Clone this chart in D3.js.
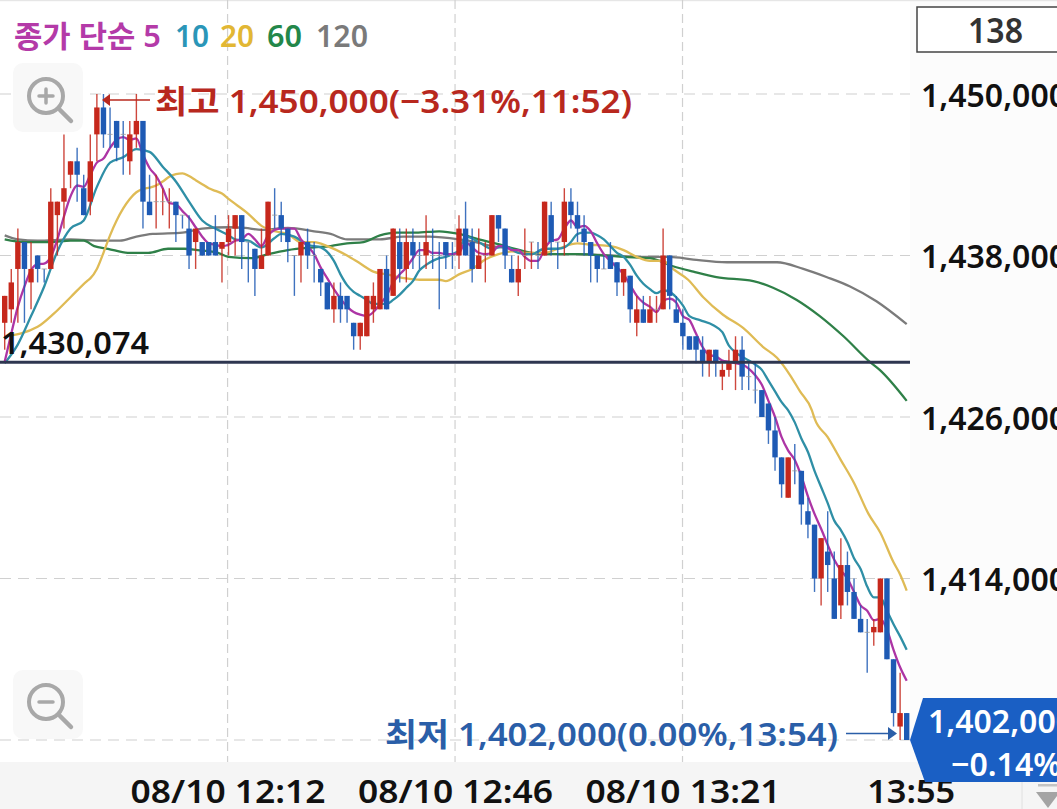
<!DOCTYPE html>
<html><head><meta charset="utf-8">
<script src="https://cdn.jsdelivr.net/npm/d3@7/dist/d3.min.js"></script>
<style>html,body{margin:0;padding:0;background:#fff;overflow:hidden}svg{display:block}
text{font-family:"Noto Sans","Noto Sans CJK KR",sans-serif;font-weight:600}</style>
</head><body><svg id="c" width="1057" height="809"></svg>
<script>
// candles, in thousands of won: body top, body bottom, wick high, wick low, direction (1 up / red, 0 down / blue)
const bodyTop=[1435,1436,1439,1439,1437,1438,1437,1442,1442,1443,1445,1445,1443,1445,1449,1449,1447,1448,1447,1447,1448,1448,1442,1442,1442,1442,1442,1441,1440,1440,1439,1439,1439,1439,1440,
1441,1441,1439,1438.5,1438,1442,1441,1441,1440,1438,1439,1439,1438,1437,1436,1435,1435,1435,1433,1433,1435,1435,1437,1437,1440,1439,1439,1439,1438,1439,1438,1438,1439,1438,1440,
1440,1439,1438,1438,1441,1441,1440,1437,1437,1438,1439,1438,1442,1441,1439,1442,1442,1441,1440,1439,1438,1437,1438,1437.5,1437,1436.5,1434,1434,1434,1434,1438,1438,1434,1433,1432,
1432,1431,1431,1431,1429.5,1430,1431,1431,1429,1428,1428,1427,1425,1423,1423,1422,1422,1419,
1418,1417,1416,1414,1415,1415,1413,1411,1410,1410.4,1414,1414,1408,1404,1404];
const bodyBottom=[1433,1434,1437,1437,1436,1437,1437,1437,1441,1442,1444,1444,1441,1442,1447,1447,1447,1446,1447,1445,1447,1442,1441,1442,1442,1442,1441,1441,1438,1439,1438,1438,1438,1438.5,1439,
1440,1439,1439,1437,1437,1438,1441,1440,1439,1438,1438,1438,1438,1436,1434,1434,1434,1434,1432,1432,1432,1434,1434,1434,1435,1437,1437,1438,1438,1438,1438,1438,1438,1438,1438,
1438,1437,1437,1438,1438,1440,1438,1436,1436,1438,1439,1438,1438,1439,1439,1439,1441,1440,1439,1438,1437,1437,1437,1436,1436,1434,1433,1433,1433,1434,1434,1435,1433,1432,1431,
1431,1430,1430,1430,1429,1429.5,1430,1429,1429,1428,1426,1425,1423,1421,1420,1422,1419.5,1418,
1414,1414,1415,1411,1412,1413,1411,1410,1410,1410,1410,1408,1404,1403,1402];
const wickHigh=[1435,1437,1440,1439,1439,1438,1437,1443,1442,1447,1445,1446,1444,1447,1450,1450,1449,1448,1448,1448,1450,1448,1444,1444,1443,1443,1442,1441,1441,1440,1439,1439,1441,1439,1441,
1441,1441,1439,1438.5,1440,1442,1443,1442,1440,1438,1439,1440,1439,1437,1436,1436,1436,1435,1433,1433,1435,1436,1437,1438,1440,1440,1440,1440,1439,1441,1440,1439,1439,1439,1441,
1442,1440,1440,1439,1441,1441,1440,1438,1438,1440,1439,1439,1442,1442,1439,1443,1443,1442,1441,1439,1438,1438,1439,1437.5,1437,1436.5,1435,1435,1435,1435,1440,1438,1435,1434,1432,
1432,1432,1431,1431,1430,1431,1432,1432,1430,1430,1428,1427,1426,1423,1423,1424,1422,1420,
1418,1417,1419,1416,1417,1416,1414,1412,1411,1411,1414,1414,1408,1407,1404];
const wickLow=[1431,1433,1433,1433,1434,1436,1436,1437,1438,1440,1443,1442,1441,1441,1445,1446,1446,1445,1444,1444,1446,1440,1441,1440,1441,1440,1439,1440,1437,1437,1438,1438,1438,1436,1438,
1438,1437,1436,1435,1437,1438,1440,1439,1437.5,1435,1436,1437,1436,1435,1434,1433,1433,1433,1431,1431,1432,1433,1434,1434,1435,1436,1436,1437,1437,1437,1437,1434,1437,1437,1437,
1438,1436,1437,1436,1438,1439,1437,1436,1435,1437,1437,1437,1438,1438,1437,1438,1440,1439,1438,1436,1436,1437,1437,1435,1435,1433,1432,1433,1433,1433,1434,1434,1433,1431,1431,
1430,1429,1429,1429,1428,1429,1428,1428,1428,1427,1426,1424,1422,1420,1420,1421,1418,1417,
1413,1412,1413,1411,1411,1412,1411,1410,1407,1409,1410,1408,1403,1402,1402];
const isUp=[1,1,1,0,1,0,0,1,1,1,1,0,0,1,1,0,0,0,0,1,1,0,0,1,1,1,0,0,0,1,0,0,0,1,1,
1,0,0,0,1,1,0,0,0,0,1,0,0,0,0,1,0,0,0,1,1,1,1,0,1,0,1,0,0,1,0,0,0,0,1,
0,0,1,1,1,0,0,0,1,1,1,0,1,0,0,1,0,0,0,0,0,0,0,0,1,0,1,0,1,1,1,0,0,0,0,
0,0,1,0,1,1,1,0,0,0,0,0,0,0,1,0,0,0,
0,1,0,0,1,0,0,0,0,1,1,0,0,1,0];

// moving averages: candle position and level
const ma5Pos=d3.range(0,138);
const ma5=[1430.1,1432.2,1434.2,1435.7,1436.9,1437.35,1437.4,1437.9,1439.2,1440.9,1442.4,1443.2,1443.1,1444,1444.9,1445.2,1446,1446.6,1446.8,1446.6,1446.7,1445.5,1444.5,1443.9,1443,1441.9,1441.8,1441.3,1440.8,1440.1,1439.4,1438.9,1438.8,1438.7,1438.8,
1439.1,1439.2,1439.6,1439.2,1438.7,1439.5,1439.9,1440,1440,1440,1439.2,1438.7,1438.1,1437.1,1436.3,1435.5,1434.8,1434.2,1433.8,1433.6,1433.5,1433.8,1434.4,1435,1436,1436.6,1437.1,1437.8,1438.4,1438.4,1438.2,1438.2,1438.1,1438.1,1438.2,
1439,1438.6,1438.2,1438.1,1438.2,1438.7,1438.7,1438.4,1438.4,1437.9,1437.6,1437.6,1438.5,1439.1,1439.2,1440,1440.6,1440.1,1440.2,1439.8,1438.9,1438.1,1437.6,1437.1,1436.6,1435.8,1435,1434.5,1434.2,1433.8,1434.6,1434.8,1434.5,1433.5,
1433.2,1432.2,1431.2,1430.6,1430.5,1430.2,1430.1,1430,1429.9,1429.6,1429.1,1428.4,1427.2,1426,1424.5,1423.5,1422.8,1421.6,1420.1,1418.8,
1417.7,1416.5,1415.4,1414.6,1414,1413,1412,1411.6,1410.9,1411,1410.2,1408.7,1407.4,1406.4];
const ma10Pos=[0,2,4,6,8,10,12,14,16,18,20,22,24,26,28,30,32,34,35,37,39,41,42,44,46,48,50,51,52,53,54,55,56,57,58,59,60,61,62,63,64,65,66,67,68,69,70,72,74,76,78,80,82,84,85,86,87,88,89,90,91,92,93,94,95,96,97,98,99,100,101,102,103,104,105.6,107.7,109,110,111,113,114,115,116,117,118,119,120,121,122,123,124,125,126,127,128,129,130,131,132,133,134,135,136,137];
const ma10=[1430,1431.4,1433.5,1435.7,1438.3,1440,1440.6,1443.1,1444.9,1445.3,1445.9,1445.7,1444.6,1443.5,1442,1440.6,1440,1439.5,1439.2,1439.1,1438.6,1439.3,1439.6,1439.4,1438.8,1438.6,1437.6,1436.6,1435.8,1435.3,1435,1434.7,1434.4,1434.4,1434.4,1434.7,1435.1,1435.6,1436.1,1436.9,1437.3,1437.6,1437.8,1437.9,1438.1,1438.4,1439.4,1439,1438.5,1438.7,1438.2,1438.1,1438.5,1438.5,1438.6,1439,1439.6,1439.7,1439.7,1439.5,1439.2,1438.7,1438.2,1437.9,1437.3,1436.5,1435.9,1435.5,1435.2,1435.4,1435.3,1434.9,1434.3,1433.5,1433.2,1432.8,1432.3,1431.3,1430.8,1430.2,1429.9,1429.5,1428.7,1427.9,1427.1,1426.5,1425.6,1424.4,1423.4,1422,1420.8,1419.6,1418.3,1417.6,1416.7,1415.5,1414.7,1413.4,1412.6,1412.6,1411.6,1410.6,1409.7,1408.7];
const ma20Pos=[0,5,7.5,10,12.5,13,14,15,16,17,18,19,20,21,22,23,24,25,26,27,28,29,30,31,32,33,34,37,39,41,43,45,47,49,52,54,56,58,61,63,66,67,69,71,73,75,77,79,82,84,87,89,92,94,96,98,100,101.5,103.8,106.1,109.1,112.2,115.2,117.3,119.3,120.8,122.6,123,125,127,129,131.2,133,135,136,137];
const ma20=[1432,1432.7,1433.7,1434.9,1436.1,1436.3,1437,1438.2,1439.5,1440.6,1441.5,1442.2,1442.7,1442.95,1443.05,1443.2,1443.5,1443.85,1444.05,1444.1,1443.9,1443.6,1443.3,1443,1442.8,1442.6,1442.2,1441.1,1440.2,1439.8,1439.6,1439,1439,1438.7,1438,1437.4,1436.8,1436.6,1436.3,1436.2,1436.2,1436.1,1436.6,1437,1437.7,1438.1,1438.3,1438.2,1438.2,1438.5,1438.9,1438.8,1438.7,1438.4,1437.9,1437.6,1437.6,1437,1436.2,1434.9,1433.6,1432.6,1431.2,1430.4,1429.1,1427.9,1426.5,1425.9,1424.5,1422.8,1421.1,1418.8,1417.4,1415.2,1414.3,1413.1];
const ma60Pos=[0,3,7,10,12,13.6,15.7,18.7,21.8,24.8,27.3,29.3,32.4,34,37.5,40,43,47,49.5,52,54.5,57,59.5,62.5,66,69,72,74.5,77.5,80,84,87,91,94,98,101.5,104.6,108.1,113.7,116.7,120.3,123.8,127.4,131.4,132.9,137];
const ma60=[1439.2,1439,1439,1439.1,1439.1,1438.7,1438.5,1438.2,1438.2,1438.5,1438.5,1438.4,1438.2,1437.9,1437.8,1438.1,1438.4,1438.6,1438.7,1438.9,1439,1439.5,1439.7,1439.7,1439.8,1439.6,1439.2,1438.9,1438.5,1438.2,1438.1,1438.1,1438,1437.9,1437.8,1437.2,1436.8,1436.4,1436.1,1435.6,1434.7,1433.5,1432,1430.1,1429.5,1427.2];
const ma120Pos=[0,2,5,10,15,17.5,20,22.5,27,30,34,36.5,39,43,47,49.5,52,54.5,57,60.5,64.5,69,71.5,74,77,79.5,83,87,92,97,101,104.6,109.7,117.3,121.3,124.8,128.4,132.4,137];
const ma120=[1439.5,1439.2,1439.1,1439.2,1439.1,1439.1,1439.4,1439.6,1439.7,1440,1440.1,1440.05,1439.9,1440.05,1439.8,1439.6,1439.2,1439.2,1439.2,1439.4,1439.4,1439.2,1439,1438.7,1438.5,1438.2,1438.1,1438.1,1438,1437.9,1437.9,1437.7,1437.5,1437.5,1437,1436.4,1435.7,1434.6,1432.9];

const yTicks=[1402,1414,1426,1438,1450];
const xTickPos=[33.85,68.4,102.95];
const xTickLabels=["08/10 12:12","08/10 12:46","08/10 13:21"];
const lastTickPos=137.6, lastTickLabel="13:55";
const baseLevel=1430.074, lastLevel=1402;
const legend=[["종가 단순 5","#b43aa8",14,147],["10","#2a96b8",175,34],["20","#e2b734",220,34],["60","#23874a",267,35],["120","#7a7a7a",316,52]];

const svg=d3.select("#c");
const plotW=910, bottomY=762;
const x=d3.scaleLinear().domain([0,137]).range([4.7,906.7]);
const y=d3.scaleLinear().domain([1402,1450]).range([740,94]);
const RED="#c6281c",BLUE="#1e5ab4";

// panels
svg.append("rect").attr("width",1057).attr("height",809).attr("fill","#fff");
svg.append("rect").attr("x",plotW).attr("y",0).attr("width",147).attr("height",bottomY).attr("fill","#fcfcfc");
svg.append("rect").attr("x",0).attr("y",bottomY).attr("width",1057).attr("height",47).attr("fill","#f5f5f5");
svg.append("rect").attr("width",1057).attr("height",1.2).attr("fill","#e6e6e6");
svg.append("line").attr("x1",1022).attr("x2",1022).attr("y1",bottomY).attr("y2",809).attr("stroke","#e0e0e0");
svg.append("rect").attr("x",1038).attr("y",784).attr("width",19).attr("height",2.5).attr("fill","#c4c4c4");
svg.append("path").attr("d","M1036,792H1060L1048,808Z").attr("fill","#a4a4a4");

// grid
const grid=svg.append("g").attr("fill","none").attr("stroke","#d0d0d0").attr("stroke-width",1.2);
yTicks.forEach(t=>grid.append("line").attr("x1",0).attr("x2",plotW).attr("y1",y(t)).attr("y2",y(t)).attr("stroke-dasharray","11,7"));
xTickPos.forEach(t=>grid.append("line").attr("x1",x(t)).attr("x2",x(t)).attr("y1",0).attr("y2",bottomY).attr("stroke-dasharray","9,5"));

// moving average lines
const lineOf=(pos,val,col)=>{
  const l=d3.line().x(d=>x(d[0])).y(d=>y(d[1])).curve(d3.curveMonotoneX);
  svg.append("path").attr("d",l(pos.map((p,i)=>[p,val[i]]))).attr("fill","none").attr("stroke",col).attr("stroke-width",2.3).attr("stroke-linejoin","round");
};
lineOf(ma120Pos,ma120,"#7b7b7b");
lineOf(ma60Pos,ma60,"#2f8048");
lineOf(ma20Pos,ma20,"#dfbb55");
lineOf(ma10Pos,ma10,"#2f8fa6");
lineOf(ma5Pos,ma5,"#ad35a5");

// candles
const cg=svg.append("g");
bodyTop.forEach((t,i)=>{
  const col=isUp[i]?RED:BLUE, cx=x(i);
  cg.append("line").attr("x1",cx).attr("x2",cx).attr("y1",y(wickHigh[i])).attr("y2",y(wickLow[i])).attr("stroke",col).attr("stroke-width",1.4).attr("opacity",.85);
  if(t===bodyBottom[i]){
    cg.append("line").attr("x1",cx-2.6).attr("x2",cx+2.6).attr("y1",y(t)).attr("y2",y(t)).attr("stroke","#999").attr("stroke-width",.8);
  }else{
    cg.append("rect").attr("x",cx-2.7).attr("width",5.4).attr("y",y(t)).attr("height",y(bodyBottom[i])-y(t)).attr("fill",col);
  }
});

// baseline
svg.append("line").attr("x1",0).attr("x2",plotW).attr("y1",y(baseLevel)).attr("y2",y(baseLevel)).attr("stroke","#2e3650").attr("stroke-width",3);

const fmt=d3.format(",");
const T=(s,px,py,size,col,len,anchor)=>{
  const e=svg.append("text").attr("x",px).attr("y",py).attr("font-size",size).attr("fill",col).text(s);
  if(anchor)e.attr("text-anchor",anchor);
  if(len)e.attr("textLength",len).attr("lengthAdjust","spacingAndGlyphs");
  return e;
};
legend.forEach(d=>T(d[0],d[2],47,30,d[1],d[3]));

// annotations
T("1,430,074",1,354,31,"#111",148);
T("최고 1,450,000(−3.31%,11:52)",155,113,32,"#b8281e",477);
T("최저 1,402,000(0.00%,13:54)",385,746,32,"#2a5ea8",453);
svg.append("line").attr("x1",110).attr("x2",150).attr("y1",100).attr("y2",100).attr("stroke","#b8281e").attr("stroke-width",1.4);
svg.append("path").attr("d","M102,100L110,94V106Z").attr("fill","#b8281e");
svg.append("line").attr("x1",846).attr("x2",890).attr("y1",733.5).attr("y2",733.5).attr("stroke","#2a5ea8").attr("stroke-width",1.4);
svg.append("path").attr("d","M897,733.5L888,727V740Z").attr("fill","#2a5ea8");

// y axis
const ya=svg.append("g").attr("transform","translate(921,0)").call(d3.axisRight(y).tickValues(yTicks.slice(1)).tickFormat(d=>fmt(d*1000)).tickSize(0).tickPadding(0));
ya.select(".domain").remove();
ya.selectAll("text").attr("font-size",32).attr("fill","#111").attr("dy",null).attr("y",12).attr("x",0);

// x axis
const xa=svg.append("g").attr("transform",`translate(0,${bottomY})`).call(d3.axisBottom(x).tickValues(xTickPos.concat([lastTickPos])).tickFormat((d,i)=>i<3?xTickLabels[i]:lastTickLabel).tickSize(0).tickPadding(0));
xa.select(".domain").remove();
xa.selectAll("text").attr("font-size",33).attr("fill","#111").attr("dy",null).attr("y",41).attr("text-anchor","middle").attr("textLength",(d,i)=>i<3?195:88).attr("lengthAdjust","spacingAndGlyphs");

// last price tag
svg.append("path").attr("d","M923,698H1057V782H925L910,740Z").attr("fill","#1a5fc4");
T(fmt(lastLevel*1000),928,733,32,"#fff");
T("−0.14%",951,776,32,"#fff");

// count box
svg.append("rect").attr("x",917).attr("y",7).attr("width",160).attr("height",45).attr("fill","#fff").attr("stroke","#444").attr("stroke-width",1.5);
T("138",995.5,43,34,"#333",55,"middle");

// zoom buttons
const btn=(by,cy,r,plus)=>{
  const g=svg.append("g");
  g.append("rect").attr("x",13).attr("y",by).attr("width",70).attr("height",69).attr("rx",10).attr("fill","#f8f8f8");
  g.append("circle").attr("cx",46).attr("cy",cy).attr("r",r).attr("fill","none").attr("stroke","#a8a8a8").attr("stroke-width",4);
  g.append("line").attr("x1",60).attr("y1",cy+14).attr("x2",71).attr("y2",cy+25).attr("stroke","#a8a8a8").attr("stroke-width",4.5).attr("stroke-linecap","round");
  g.append("line").attr("x1",39).attr("x2",53).attr("y1",cy).attr("y2",cy).attr("stroke","#a8a8a8").attr("stroke-width",3.5).attr("stroke-linecap","round");
  if(plus)g.append("line").attr("x1",46).attr("x2",46).attr("y1",cy-7).attr("y2",cy+7).attr("stroke","#a8a8a8").attr("stroke-width",3.5).attr("stroke-linecap","round");
};
btn(63,96,17,true);
btn(670,702,17,false);
</script></body></html>
